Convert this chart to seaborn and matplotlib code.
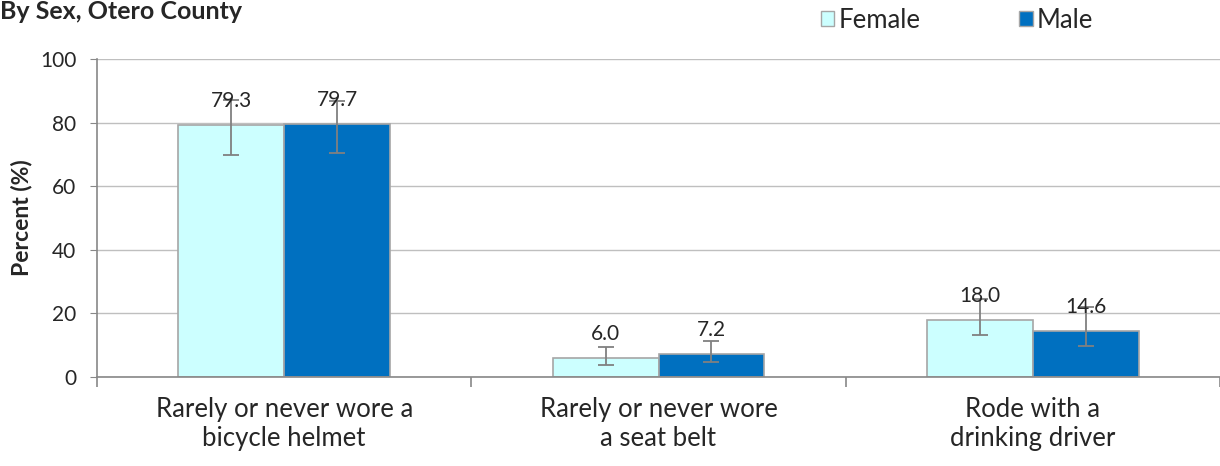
import matplotlib
matplotlib.use('Agg')
import matplotlib.pyplot as plt
from matplotlib.patches import Patch
import seaborn as sns
import pandas as pd

# values
categories = ['Rarely or never wore a\nbicycle helmet',
              'Rarely or never wore\na seat belt',
              'Rode with a\ndrinking driver']
female = [79.3, 6.0, 18.0]
male = [79.7, 7.2, 14.6]
female_low = [69.8, 3.8, 13.2]
female_high = [87.1, 9.4, 24.5]
male_low = [70.4, 4.7, 9.8]
male_high = [86.8, 11.3, 22.0]
groups = ['Female', 'Male']
colors = {'Female': '#CCFFFF', 'Male': '#0070C0'}

df = pd.DataFrame({
    'cat': categories * 2,
    'sex': ['Female'] * 3 + ['Male'] * 3,
    'val': female + male,
})
ci = {'Female': (female_low, female_high), 'Male': (male_low, male_high)}

sns.set_style('white')
plt.rcParams['font.family'] = ['Lato', 'DejaVu Sans']

fig = plt.figure(figsize=(12.2, 4.66), dpi=100)
ax = fig.add_axes([97 / 1220, 1 - 377 / 466, 1 - 97 / 1220, (377 - 59) / 466])

sns.barplot(data=df, x='cat', y='val', hue='sex', order=categories, hue_order=groups,
            palette=colors, saturation=1, width=0.566, errorbar=None,
            edgecolor='#A6A6A6', linewidth=1.2, ax=ax, zorder=2)
ax.get_legend().remove()

for cont, g in zip(ax.containers, groups):
    lo, hi = ci[g]
    for bar, l, h in zip(cont, lo, hi):
        x = bar.get_x() + bar.get_width() / 2
        v = bar.get_height()
        ax.errorbar(x, v, yerr=[[v - l], [h - v]], fmt='none', ecolor='#808080',
                    elinewidth=1.3, capsize=6, capthick=1.3, zorder=3)
        ax.annotate(f'{v:.1f}', (x, v), xytext=(0, 17), textcoords='offset points',
                    ha='center', va='center', fontsize=15, zorder=4)

ax.set_ylim(0, 100)
ax.set_xlim(-0.5, 2.47)
ax.set_yticks([0, 20, 40, 60, 80, 100])
ax.yaxis.grid(True, color='#BFBFBF', linewidth=1, zorder=0)
ax.set_axisbelow(True)
for s in ['top', 'right']:
    ax.spines[s].set_visible(False)
for s in ['left', 'bottom']:
    ax.spines[s].set_color('#888888')
    ax.spines[s].set_linewidth(1.2)
ax.tick_params(axis='y', left=True, length=5, color='#888888', labelsize=15, pad=10)
ax.tick_params(axis='x', which='major', bottom=False, labelsize=18.5, pad=11)
ax.set_xticks([-0.5, 0.5, 1.5, 2.5], minor=True)
ax.tick_params(axis='x', which='minor', bottom=True, length=7, color='#888888', width=1.2)
ax.set_xlabel('')
ax.set_ylabel('Percent (%)', fontsize=16.5, fontweight='bold', labelpad=5)

fig.text(0.0, 0.975, 'By Sex, Otero County', fontsize=18, fontweight='bold',
         ha='left', va='center')

handles = [Patch(facecolor=colors[g], edgecolor='#A6A6A6', linewidth=1) for g in groups]
fig.legend(handles, groups, loc='center left', bbox_to_anchor=(821 / 1220, 1 - 20 / 466),
           ncol=2, frameon=False, fontsize=18.5, handlelength=0.52, handleheight=0.52,
           handletextpad=0.15, columnspacing=3.85, borderaxespad=0, borderpad=0)

fig.savefig('out.png', dpi=100)
